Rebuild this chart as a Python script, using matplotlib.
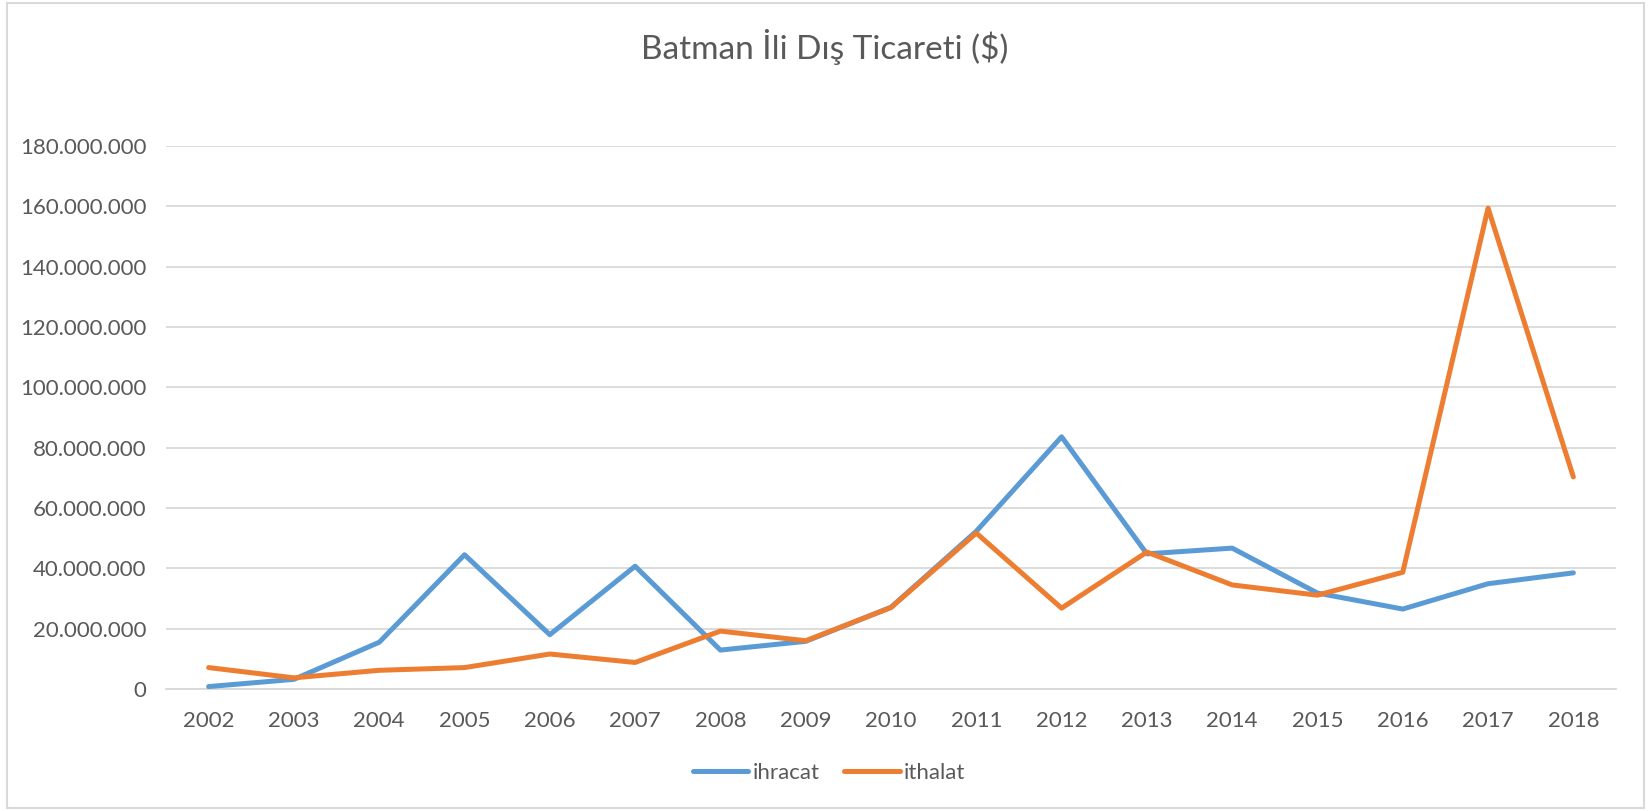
import matplotlib
matplotlib.use("Agg")
import matplotlib.pyplot as plt
from matplotlib import ticker
from matplotlib.patches import Rectangle

years = ["2002", "2003", "2004", "2005", "2006", "2007", "2008", "2009", "2010",
         "2011", "2012", "2013", "2014", "2015", "2016", "2017", "2018"]
ihracat = [0.8, 3.2, 15.5, 44.5, 18.0, 40.7, 12.9, 15.8, 27.1,
           52.3, 83.6, 44.8, 46.7, 31.8, 26.5, 34.9, 38.5]
ithalat = [7.1, 3.7, 6.2, 7.1, 11.6, 8.8, 19.2, 16.0, 27.0,
           51.7, 26.8, 45.4, 34.5, 31.1, 38.7, 159.4, 70.3]
ihracat = [v * 1e6 for v in ihracat]
ithalat = [v * 1e6 for v in ithalat]

plt.rcParams["font.family"] = ["Lato", "DejaVu Sans"]
gray = "#595959"

fig = plt.figure(figsize=(16.51, 8.11), dpi=100)
fig.patches.append(Rectangle((0.004, 0.004), 0.992, 0.992, transform=fig.transFigure,
                             fill=False, edgecolor="#D9D9D9", linewidth=1.5))

ax = fig.add_axes([166 / 1651, 1 - 689 / 811, (1616 - 166) / 1651, (689 - 146) / 811])
x = range(len(years))
ax.plot(x, ihracat, color="#5B9BD5", linewidth=3.6, solid_capstyle="round",
        solid_joinstyle="round", label="ihracat", zorder=3)
ax.plot(x, ithalat, color="#ED7D31", linewidth=3.6, solid_capstyle="round",
        solid_joinstyle="round", label="ithalat", zorder=4)

ax.set_xlim(-0.5, len(years) - 0.5)
ax.set_ylim(0, 180e6)
ax.set_xticks(list(x), years)
ax.yaxis.set_major_locator(ticker.MultipleLocator(20e6))
ax.yaxis.set_major_formatter(ticker.FuncFormatter(lambda v, p: f"{int(v):,}".replace(",", ".")))
ax.grid(True, axis="y", color="#D9D9D9", linewidth=1.3)
ax.set_axisbelow(True)
for s in ["top", "right", "left"]:
    ax.spines[s].set_visible(False)
ax.spines["bottom"].set_color("#D9D9D9")
ax.spines["bottom"].set_linewidth(1.3)
ax.tick_params(axis="both", length=0, labelsize=16, colors=gray)
ax.tick_params(axis="y", pad=14)
ax.tick_params(axis="x", pad=16)

fig.text(825 / 1651, 1 - 47 / 811, "Batman İli Dış Ticareti ($)", ha="center", va="center",
         fontsize=24, color=gray)

fig.legend(loc="center", bbox_to_anchor=(829 / 1651, 1 - 773 / 811), ncol=2, frameon=False,
           fontsize=16, labelcolor=gray, handlelength=2.5, handletextpad=0.2, columnspacing=1.1)

fig.savefig("out.png", dpi=100)
